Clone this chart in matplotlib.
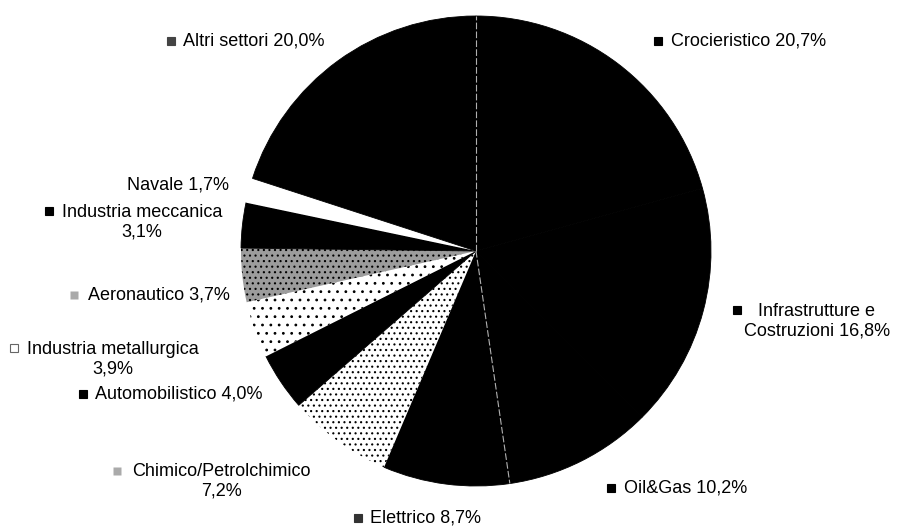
import numpy as np
import matplotlib.pyplot as plt

plt.rcParams['font.family'] = ['Liberation Sans', 'DejaVu Sans']
plt.rcParams['hatch.linewidth'] = 0.8

# Ripartizione per settore (%), in senso orario dalle ore 12
settori = ['Crocieristico', 'Infrastrutture e\nCostruzioni', 'Oil&Gas', 'Elettrico',
           'Chimico/Petrolchimico', 'Automobilistico', 'Industria metallurgica',
           'Aeronautico', 'Industria meccanica', 'Navale', 'Altri settori']
quote = [20.7, 16.8, 10.2, 8.7, 7.2, 4.0, 3.9, 3.7, 3.1, 1.7, 20.0]

colori = ['black', 'black', 'black', 'black', 'white', 'black', 'white',
          '#9c9c9c', 'black', 'white', 'black']
tratteggi = [None, None, None, None, '...', None, '..', '...', None, None, None]

# testo delle etichette: separatore tra nome e valore
separatori = [' ', ' ', ' ', ' ', '\n', ' ', '\n', ' ', '\n', ' ', ' ']

# posizione etichette in pixel (x, y dall'alto), allineamento orizzontale
pos_etichette = [(671, 41, 'left'), (817, 321, 'center'), (624, 488, 'left'),
                 (370, 518, 'left'), (221, 481, 'center'), (95, 394, 'left'),
                 (113, 359, 'center'), (88, 295, 'left'), (142, 222, 'center'),
                 (229, 185, 'right'), (183, 41, 'left')]
# quadratini accanto alle etichette (x, y dall'alto, colore, bordo)
pos_marker = [(658, 41, 'black', 'black'), (737, 310, 'black', 'black'),
              (611, 488, 'black', 'black'), (358, 518, '#333333', '#333333'),
              (117, 471, '#aaaaaa', 'none'), (83, 394, 'black', 'black'),
              (14, 348, 'white', '#666666'), (74, 295, '#aaaaaa', 'none'),
              (49, 211, 'black', 'black'), None, (171, 41, '#444444', '#444444')]

W, H = 897, 526
fig = plt.figure(figsize=(8.97, 5.26), dpi=100)
ax = fig.add_axes([0, 0, 1, 1])

cx, cy, r = 476, H - 251, 235
wedges, _ = ax.pie(quote, colors=colori, startangle=90, counterclock=False,
                   center=(cx, cy), radius=r, frame=True,
                   wedgeprops=dict(linewidth=0))
for w, c, h in zip(wedges, colori, tratteggi):
    if h:
        w.set_hatch(h)
        w.set_edgecolor('black')
        w.set_linewidth(0)
    elif c == 'black':
        # bordo dello stesso colore per evitare fessure tra spicchi neri
        w.set_edgecolor('black')
        w.set_linewidth(0.6)

# sottili linee chiare ai confini Altri/Crocieristico e Oil&Gas/Elettrico
for ang in [wedges[0].theta2, wedges[2].theta1]:
    a = np.deg2rad(ang)
    ax.plot([cx, cx + r * np.cos(a)], [cy, cy + r * np.sin(a)],
            color='#b0b0b0', lw=0.8, ls=(0, (6, 2)))

for nome, val, sep, (x, y, ha), mk in zip(settori, quote, separatori,
                                           pos_etichette, pos_marker):
    testo = nome + sep + f'{val:.1f}'.replace('.', ',') + '%'
    ax.text(x, H - y, testo, ha=ha, va='center', fontsize=13,
            multialignment='center', linespacing=1.2)
    if mk:
        ax.plot(mk[0], H - mk[1], marker='s', ms=6, mfc=mk[2], mec=mk[3], mew=0.8)

ax.set_xlim(0, W)
ax.set_ylim(0, H)
ax.set_aspect('equal')
ax.axis('off')

fig.savefig('out.png', dpi=100, facecolor='white')
